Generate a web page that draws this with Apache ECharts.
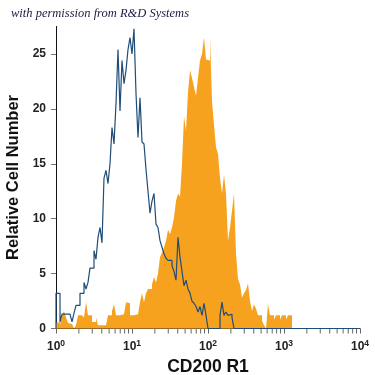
<!DOCTYPE html>
<html>
<head>
<meta charset="utf-8">
<script src="https://cdn.jsdelivr.net/npm/echarts@6/dist/echarts.min.js"></script>
<style>
html,body{margin:0;padding:0;background:#fff;}
#chart{width:375px;height:375px;}
</style>
</head>
<body>
<div id="chart"></div>
<script>
// Histogram bins: each bin spans 1/38 of a decade, starting at 10^0
const binsPerDecade = 38;
const orangeCounts = [0.5,0.6,0.3,1.2,1.6,1.0,0.5,0.4,0.5,0,
 0.3,1.2,1.2,1.2,1.0,2.4,1.2,1.2,0.6,0.6,
 1.0,0.3,0.3,0.3,0.3,0.3,1.2,1.2,1.6,2.2,
 1.2,1.2,1.2,1.3,1.2,2.4,2.3,1.2,1.2,1.2,
 1.3,1.2,2.4,3.2,2.4,3.2,3.6,3.6,4.0,4.7,
 4.2,5.0,6.5,6.9,7.4,8.0,9.0,8.6,9.2,10.1,
 11.6,12.3,12.0,15.0,19.3,18.0,21.5,23.5,22.8,22.0,
 21.2,22.8,24.4,25.0,26.5,24.5,24.4,26.5,20.7,18.5,
 16.5,15.9,13.7,12.3,14.0,12.3,8.0,9.2,10.7,12.3,
 6.8,4.5,4.0,2.8,3.2,3.5,4.1,2.5,1.6,2.2,
 1.8,1.2,1.2,0.7,0.3,0,2.2,1.2,1.2,0.8,
 1.2,1.2,0.8,1.2,1.2,0.8,1.2,1.2];
const blueCounts = [3.2,3.2,0.6,1.3,1.3,1.3,1.3,1.3,0.6,1.4,
 2.1,2.1,3.2,3.2,4.2,3.6,4.2,5.5,5.5,7.1,
 6.3,8.3,9.2,7.8,13.7,14.4,13.2,15.0,18.3,16.8,
 20.5,25.4,19.8,24.4,22.3,23.5,25.4,26.5,25.0,27.3,
 21.4,17.4,21.0,17.0,16.8,14.5,12.5,10.5,11.6,12.3,
 9.5,9.2,8.0,7.4,6.8,6.4,6.2,6.2,5.7,5.2,
 4.4,8.3,6.5,5.2,3.9,4.4,3.6,3.2,2.5,2.3,
 2.0,1.5,2.0,1.2,2.3,1.2,0,0,0,0,
 0,0,1.2,2.4,1.2,1.5,1.2,1.3,1.0,0];
const xMinorTicks = [2,3,4,5,6,7,8,9,20,30,40,50,60,70,80,90,200,300,400,500,600,700,800,900,2000,3000,4000,5000,6000,7000,8000,9000];
const yTicks = [0,5,10,15,20,25];

function edge(i){ return Math.pow(10, i / binsPerDecade); }
function stepData(counts, extendTo){
  const d = [[edge(0), 0]];
  counts.forEach((c,i)=>d.push([edge(i), c]));
  d.push([edge(counts.length), 0]);
  if (extendTo) d.push([extendTo, 0]);
  return d;
}

const chart = echarts.init(document.getElementById('chart'), null, {renderer:'canvas'});
const labelFont = "'Liberation Sans',Arial,sans-serif";
chart.setOption({
  animation:false,
  backgroundColor:'#ffffff',
  grid:{left:56, right:15, top:26.5, bottom:46.5, containLabel:false, outerBoundsMode:'none'},
  graphic:[{
    type:'text', left:11, top:7,
    style:{text:'with permission from R&D Systems', font:"italic 12.5px 'Liberation Serif',serif", fill:'#1c1c40'}
  }],
  xAxis:{
    type:'log', logBase:10, min:1, max:10000,
    name:'CD200 R1', nameLocation:'middle', nameGap:25,
    nameTextStyle:{fontFamily:"'Liberation Sans',Arial,sans-serif", fontWeight:'bold', fontSize:17.5, color:'#111'},
    axisLine:{show:true, lineStyle:{color:'#333', width:1}},
    axisTick:{show:true, length:5, lineStyle:{color:'#666'}},
    splitLine:{show:false},
    axisLabel:{
      margin:11,
      formatter:function(v){ const e=Math.round(Math.log10(v)); return '{b|10}{s|'+e+'}'; },
      rich:{
        b:{fontFamily:labelFont, fontSize:12, color:'#222', fontWeight:'bold'},
        s:{fontFamily:labelFont, fontSize:8.5, color:'#222', fontWeight:'bold', padding:[0,0,6,0]}
      }
    }
  },
  yAxis:{
    type:'value', min:0, max:27.5, interval:5,
    name:'Relative Cell Number', nameLocation:'middle', nameGap:33,
    nameTextStyle:{fontFamily:"'Liberation Sans',Arial,sans-serif", fontWeight:'bold', fontSize:16.5, color:'#111'},
    axisLine:{show:true, lineStyle:{color:'#111', width:1}},
    axisTick:{show:true, length:5, customValues:yTicks, lineStyle:{color:'#777'}},
    axisLabel:{customValues:yTicks, margin:10, fontFamily:labelFont, fontSize:12, fontWeight:'bold', color:'#222'},
    splitLine:{show:false}
  },
  series:[
    {
      type:'line', step:'end', symbol:'none', clip:false,
      data:stepData(orangeCounts),
      lineStyle:{width:0},
      areaStyle:{color:'#f7a21e', opacity:1},
      z:2
    },
    {
      type:'line', step:'end', symbol:'none', clip:false,
      data:stepData(blueCounts, 10000),
      lineStyle:{color:'#1f4d78', width:1.2},
      z:3
    },
    {
      type:'custom', clip:false, z:1,
      data:xMinorTicks.map(v=>[v,0]),
      renderItem:function(params, api){
        const p = api.coord([api.value(0), 0]);
        return {type:'line', shape:{x1:p[0], y1:p[1], x2:p[0], y2:p[1]+5}, style:{stroke:'#666', lineWidth:1}};
      }
    }
  ]
});
</script>
</body>
</html>
